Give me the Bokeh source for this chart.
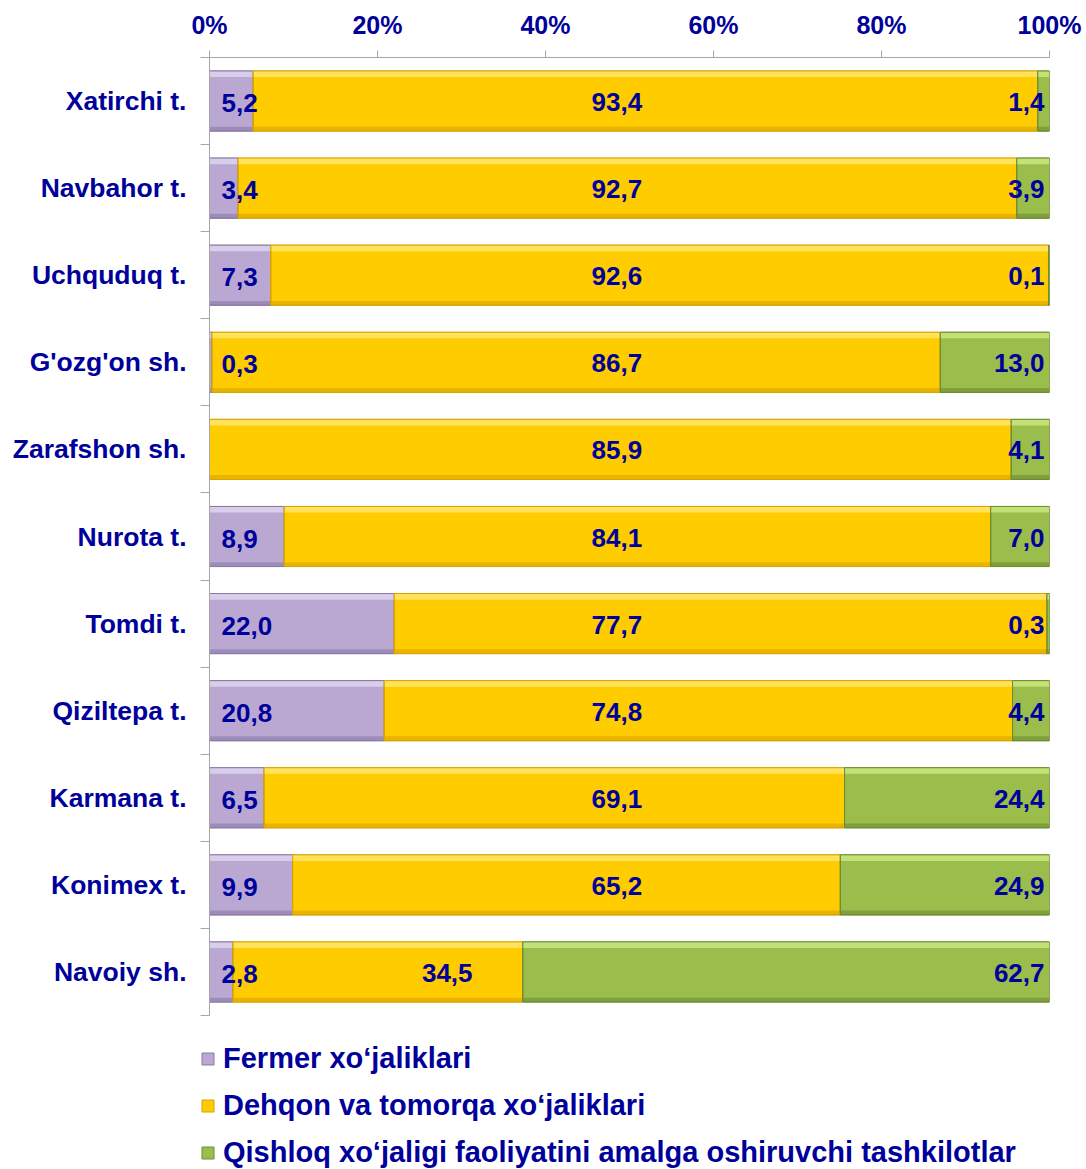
import numpy as np
from bokeh.plotting import figure
from bokeh.layouts import column
from bokeh.models import Range1d, FixedTicker, ColumnDataSource, Legend, LegendItem
from bokeh.embed import file_html
from bokeh.resources import INLINE
from bokeh.core.properties import value

# ---------------- data ----------------
categories = ["Xatirchi t.", "Navbahor t.", "Uchquduq t.", "G'ozg'on sh.", "Zarafshon sh.",
              "Nurota t.", "Tomdi t.", "Qiziltepa t.", "Karmana t.", "Konimex t.", "Navoiy sh."]
fermer = [5.2, 3.4, 7.3, 0.3, 0.0, 8.9, 22.0, 20.8, 6.5, 9.9, 2.8]
dehqon = [93.4, 92.7, 92.6, 86.7, 85.9, 84.1, 77.7, 74.8, 69.1, 65.2, 34.5]
qishloq = [1.4, 3.9, 0.1, 13.0, 4.1, 7.0, 0.3, 4.4, 24.4, 24.9, 62.7]
series_names = ["Fermer xo\u2018jaliklari",
                "Dehqon va tomorqa xo\u2018jaliklari",
                "Qishloq xo\u2018jaligi faoliyatini amalga oshiruvchi tashkilotlar"]
x_ticks = [0, 20, 40, 60, 80, 100]
x_tick_labels = ["0%", "20%", "40%", "60%", "80%", "100%"]

# ---------------- style ----------------
NAVY = "#00009a"
FONT = "Liberation Sans"
fills = ["#baa8d2", "#ffcc00", "#9bbd4c"]
lights = ["#ddd2ec", "#ffe566", "#c8e47c"]
darks = ["#8c7aa6", "#d9a400", "#6e8c32"]
BAR_H = 0.69

n = len(categories)
yc = np.arange(n - 1, -1, -1, dtype=float)  # top category at top

vals = np.array([fermer, dehqon, qishloq], dtype=float)
totals = vals.sum(axis=0)
shares = vals / totals * 100.0
lefts = np.vstack([np.zeros(n), np.cumsum(shares, axis=0)[:-1]])
rights = lefts + shares

p = figure(width=1086, height=1040, output_backend="svg", toolbar_location=None,
           x_range=Range1d(0, 100), y_range=Range1d(-0.5, n - 0.5),
           x_axis_location="above", min_border_left=209, min_border_right=37,
           min_border_top=57, min_border_bottom=25)
p.outline_line_color = None
p.grid.visible = False
p.background_fill_color = "white"

for k in range(3):
    src = ColumnDataSource(dict(left=lefts[k], right=rights[k],
                                top=yc + BAR_H / 2, bottom=yc - BAR_H / 2))
    p.quad(left="left", right="right", top="top", bottom="bottom", source=src,
           fill_color=fills[k], line_color=darks[k], line_width=1)
    # bevel highlight / shade
    p.quad(left=lefts[k], right=rights[k], top=yc + BAR_H / 2, bottom=yc + BAR_H / 2 - 0.07,
           fill_color=lights[k], line_color=None, fill_alpha=0.9)
    p.quad(left=lefts[k], right=rights[k], top=yc - BAR_H / 2 + 0.05, bottom=yc - BAR_H / 2,
           fill_color=darks[k], line_color=None, fill_alpha=0.6)
    p.quad(left=lefts[k], right=rights[k], top=yc + BAR_H / 2, bottom=yc - BAR_H / 2,
           fill_alpha=0, line_color=darks[k], line_width=1)

def fmt(v):
    return f"{v:.1f}".replace(".", ",")

label_kw = dict(text_font=value(FONT), text_font_style="bold", text_font_size="26px",
                text_color=NAVY, text_baseline="middle")

# Fermer labels: near start of bar
m0 = vals[0] > 0
p.text(x=lefts[0][m0], y=yc[m0], text=[fmt(v) for v in vals[0][m0]],
       text_align="left", x_offset=12, y_offset=2, **label_kw)
# Dehqon labels: around the middle of the bar, kept inside the segment
x1 = np.minimum(48.5, rights[1] - 9)
p.text(x=x1, y=yc, text=[fmt(v) for v in vals[1]], text_align="center", y_offset=1, **label_kw)
# Qishloq labels: near end of bar
p.text(x=rights[2], y=yc, text=[fmt(v) for v in vals[2]], text_align="right",
       x_offset=-5, y_offset=1, **label_kw)

# top axis
xa = p.xaxis[0]
xa.ticker = FixedTicker(ticks=x_ticks)
xa.major_label_overrides = {t: l for t, l in zip(x_ticks, x_tick_labels)}
xa.major_label_text_font = FONT
xa.major_label_text_font_style = "bold"
xa.major_label_text_font_size = "25px"
xa.major_label_text_color = NAVY
xa.axis_line_color = "#a6a6a6"
xa.major_tick_line_color = "#a6a6a6"
xa.major_tick_out = 7
xa.major_tick_in = 0
xa.minor_tick_line_color = None
xa.major_label_standoff = 12

# left axis
ya = p.yaxis[0]
ya.ticker = FixedTicker(ticks=list(yc), minor_ticks=list(np.arange(-0.5, n, 1.0)))
ya.major_label_overrides = {int(y): c for y, c in zip(yc, categories)}
ya.major_label_text_font = FONT
ya.major_label_text_font_style = "bold"
ya.major_label_text_font_size = "26.5px"
ya.major_label_text_color = NAVY
ya.axis_line_color = "#a6a6a6"
ya.major_tick_line_color = None
ya.major_tick_out = 0
ya.major_tick_in = 0
ya.minor_tick_line_color = "#a6a6a6"
ya.minor_tick_out = 9
ya.minor_tick_in = 0
ya.major_label_standoff = 14

# ---------------- legend panel ----------------
pl = figure(width=1086, height=129, output_backend="svg", toolbar_location=None,
            x_range=Range1d(0, 1), y_range=Range1d(0, 1),
            x_axis_location=None, y_axis_location=None,
            min_border_left=0, min_border_right=0, min_border_top=0, min_border_bottom=0)
pl.frame_align = False
pl.outline_line_color = None
pl.grid.visible = False
leg_r = []
for k in range(3):
    # swatch renderers (their single quad lies outside the visible range)
    leg_r.append(pl.quad(left=[5], right=[6], top=[6], bottom=[5],
                         fill_color=fills[k], line_color=darks[k], line_width=1))

legend = Legend(items=[LegendItem(label=series_names[k], renderers=[leg_r[k]]) for k in range(3)],
                location=(200, 0), orientation="vertical",
                glyph_width=15, glyph_height=15, label_standoff=8, spacing=14,
                label_height=33,
                padding=0, margin=0, border_line_alpha=0, background_fill_alpha=0,
                label_text_font=FONT, label_text_font_style="bold",
                label_text_font_size="29px", label_text_color=NAVY)
pl.add_layout(legend, "center")

layout = column(p, pl, spacing=0)
open("out.html", "w").write(file_html(layout, INLINE))
